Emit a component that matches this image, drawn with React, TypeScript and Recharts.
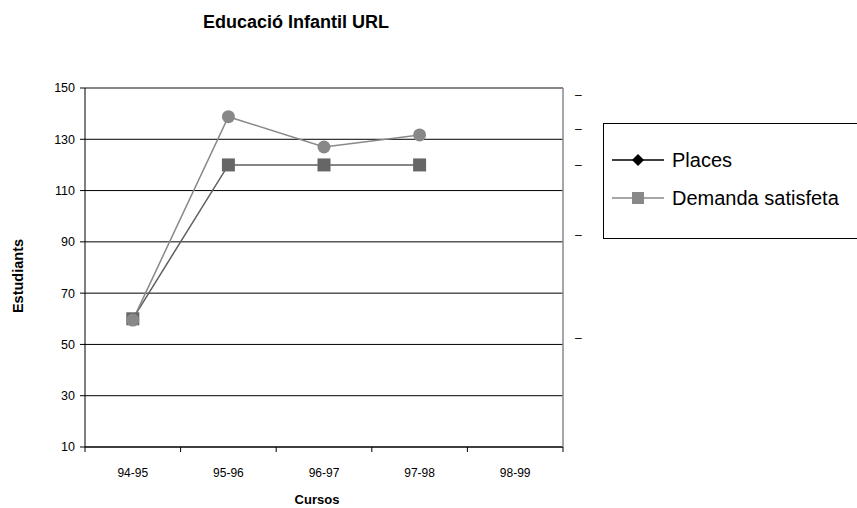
import React from "react";
import {
  LineChart,
  Line,
  XAxis,
  YAxis,
  CartesianGrid,
  ReferenceLine,
} from "recharts";

const CURSOS = ["94-95", "95-96", "96-97", "97-98", "98-99"];
const PLACES = [60, 120, 120, 120, null];
const DEMANDA = [59.5, 138.8, 127, 131.7, null];
const Y_TICKS = [10, 30, 50, 70, 90, 110, 130, 150];
const RIGHT_TICKS = [147.3, 134, 120, 92.6, 52.4];

const data = CURSOS.map((curs, i) => ({ curs, places: PLACES[i], demanda: DEMANDA[i] }));

const FONT = "Arial, 'Liberation Sans', sans-serif";
const W = 857;
const H = 508;
const PLOT_LEFT = 85;
const PLOT_RIGHT = 563;
const BAND = (PLOT_RIGHT - PLOT_LEFT) / CURSOS.length;

function XTick(props: any) {
  const { x, y, payload, index } = props;
  const last = index === CURSOS.length - 1;
  return (
    <g>
      <line x1={x - BAND / 2} x2={x - BAND / 2} y1={y} y2={y + 5} stroke="#000" />
      {last && <line x1={x + BAND / 2} x2={x + BAND / 2} y1={y} y2={y + 5} stroke="#000" />}
      <text x={x} y={y + 30} textAnchor="middle" fontSize={12} fontFamily={FONT} fill="#000">
        {payload.value}
      </text>
    </g>
  );
}

function RightTick(props: any) {
  const { y } = props;
  return (
    <text x={PLOT_RIGHT + 12} y={y + 4} fontSize={12} fontFamily={FONT} fill="#000">
      –
    </text>
  );
}

function SquareDot(props: any) {
  const { cx, cy, value } = props;
  if (value == null || cx == null || cy == null) return <g />;
  return <rect x={cx - 6.5} y={cy - 6.5} width={13} height={13} fill="#666666" />;
}

function CircleDot(props: any) {
  const { cx, cy, value } = props;
  if (value == null || cx == null || cy == null) return <g />;
  return <circle cx={cx} cy={cy} r={6.5} fill="#888888" />;
}

function LegendBox() {
  const row = (label: string, color: string, marker: React.ReactNode) => (
    <div style={{ display: "flex", alignItems: "center", height: 38 }}>
      <svg width={56} height={16} style={{ marginRight: 4 }}>
        <line x1={0} x2={52} y1={8} y2={8} stroke={color} strokeWidth={1.5} />
        {marker}
      </svg>
      <span style={{ fontSize: 20, fontFamily: FONT, color: "#000" }}>{label}</span>
    </div>
  );
  return (
    <div
      style={{
        position: "absolute",
        left: 603,
        top: 123,
        border: "1px solid #000",
        borderRight: "none",
        width: 280,
        height: 116,
        boxSizing: "border-box",
        paddingTop: 17,
        paddingLeft: 8,
      }}
    >
      {row("Places", "#000", <polygon points="26,2 32,8 26,14 20,8" fill="#000" />)}
      {row("Demanda satisfeta", "#888", <rect x={20} y={2} width={12} height={12} fill="#888" />)}
    </div>
  );
}

export default function App() {
  return (
    <div style={{ position: "absolute", left: 0, top: 0, width: W, height: H, background: "#fff", overflow: "hidden" }}>
      <LineChart
        width={W}
        height={H}
        data={data}
        margin={{ top: 88, right: W - PLOT_RIGHT - 30, bottom: 31, left: PLOT_LEFT - 60 }}
      >
        <CartesianGrid yAxisId="left" stroke="#000" vertical={false} />
        <XAxis
          dataKey="curs"
          tickLine={false}
          tickSize={0}
          tickMargin={0}
          height={30}
          padding={{ left: BAND / 2, right: BAND / 2 }}
          axisLine={{ stroke: "#000" }}
          tick={<XTick />}
          interval={0}
        />
        <YAxis
          yAxisId="left"
          domain={[10, 150]}
          ticks={Y_TICKS}
          width={60}
          tickSize={5}
          tickMargin={5}
          axisLine={{ stroke: "#000" }}
          tickLine={{ stroke: "#000" }}
          tick={{ fill: "#000", fontSize: 12.5, fontFamily: FONT }}
          interval={0}
        />
        <YAxis
          yAxisId="right"
          orientation="right"
          domain={[10, 150]}
          allowDataOverflow
          ticks={RIGHT_TICKS}
          width={30}
          tickLine={false}
          axisLine={{ stroke: "#888", strokeWidth: 1.5 }}
          tick={<RightTick />}
          interval={0}
        />
        <ReferenceLine yAxisId="right" y={150} stroke="#888" strokeWidth={1.5} />
        <Line
          yAxisId="left"
          dataKey="places"
          name="Places"
          stroke="#5f5f5f"
          strokeWidth={1.5}
          dot={<SquareDot />}
          activeDot={false}
          isAnimationActive={false}
        />
        <Line
          yAxisId="left"
          dataKey="demanda"
          name="Demanda satisfeta"
          stroke="#888888"
          strokeWidth={1.5}
          dot={<CircleDot />}
          activeDot={false}
          isAnimationActive={false}
        />
      </LineChart>
      <svg
        width={W}
        height={H}
        style={{ position: "absolute", left: 0, top: 0, pointerEvents: "none" }}
      >
        <text x={296} y={28} textAnchor="middle" fontSize={18} fontWeight="bold" fontFamily={FONT}>
          Educació Infantil URL
        </text>
        <text x={317} y={504} textAnchor="middle" fontSize={13} fontWeight="bold" fontFamily={FONT}>
          Cursos
        </text>
        <text
          x={23}
          y={276}
          textAnchor="middle"
          fontSize={14.5}
          fontWeight="bold"
          fontFamily={FONT}
          transform="rotate(-90, 23, 276)"
        >
          Estudiants
        </text>
      </svg>
      <LegendBox />
    </div>
  );
}
